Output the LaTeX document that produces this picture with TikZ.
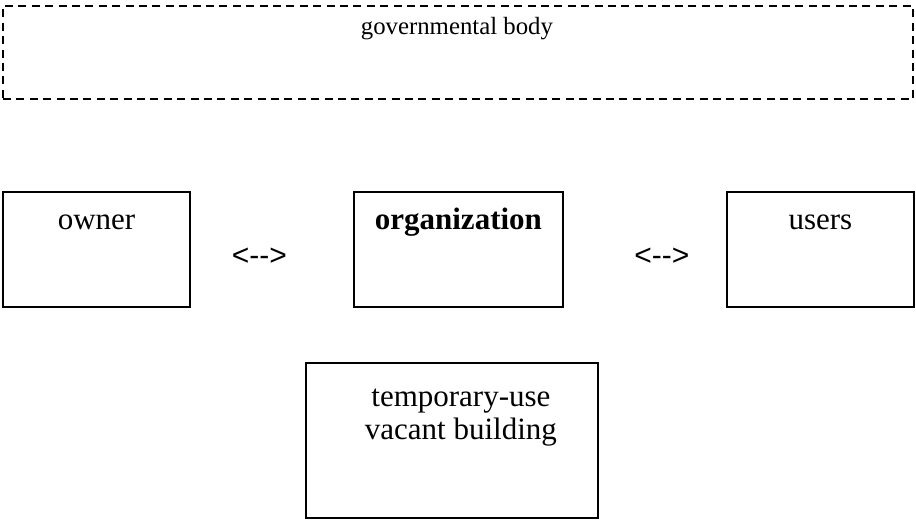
\documentclass[tikz,border=0pt]{standalone}
\usepackage{fontspec}
\setmainfont{Liberation Serif}
\newfontfamily\arrowfont{Liberation Sans}
\usepackage{tikz}
\usetikzlibrary{positioning}

\begin{document}
\begin{tikzpicture}[
   box/.style={draw, rectangle, line width=0.7pt, minimum height=2.02cm, inner sep=0pt},
   boxtext/.style={anchor=base, font=\fontsize{15.5}{16.5}\selectfont},
   linktext/.style={font=\arrowfont\fontsize{15}{18}\selectfont}
]
\useasboundingbox (0,0) rectangle (16.10,9.156);

% Governmental body (dashed frame)
\node[draw, rectangle, line width=1pt, dash pattern=on 4pt off 2.7pt, minimum width=15.99cm, minimum height=1.634cm, inner sep=0pt] (gov) at (8.048, 8.233) {};
\node[anchor=base, font=\fontsize{12.4}{15}\selectfont] (govtext) at (8.031, 8.541) {governmental body};

% Actors
\node[box, minimum width=3.286cm] (owner) at (1.696, 4.771) {};
\node[box, minimum width=3.673cm] (org) at (8.057, 4.771) {};
\node[box, minimum width=3.286cm] (users) at (14.419, 4.771) {};

\node[boxtext] (ownertext) at ([yshift=-0.668cm]owner.north) {owner};
\node[boxtext] (orgtext) at ([yshift=-0.668cm]org.north) {\textbf{organization}};
\node[boxtext] (userstext) at ([yshift=-0.668cm]users.north) {users};

% Relations
\node[linktext] (link1) at (4.560, 4.640) {<-->};
\node[linktext] (link2) at (11.633, 4.640) {<-->};

% Building (base anchor sits on the last line)
\node[box, minimum width=5.131cm, minimum height=2.724cm] (building) at (7.943, 1.415) {};
\node[boxtext, align=center] (buildingtext) at ([xshift=0.158cm, yshift=-1.353cm]building.north) {temporary-use\\vacant building};
\end{tikzpicture}
\end{document}
